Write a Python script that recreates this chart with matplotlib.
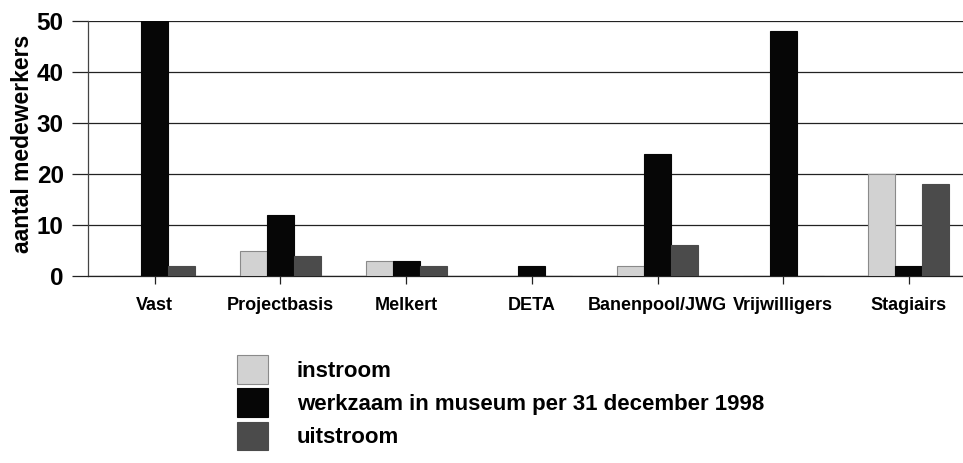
import matplotlib
matplotlib.use("Agg")
import matplotlib.pyplot as plt
import numpy as np

categories = ["Vast", "Projectbasis", "Melkert", "DETA", "Banenpool/JWG", "Vrijwilligers", "Stagiairs"]
instroom = [0, 5, 3, 0, 2, 0, 20]
werkzaam = [50, 12, 3, 2, 24, 48, 2]
uitstroom = [2, 4, 2, 0, 6, 0, 18]
series_names = ["instroom", "werkzaam in museum per 31 december 1998", "uitstroom"]
yticks = [0, 10, 20, 30, 40, 50]

plt.rcParams['font.family'] = ['Liberation Sans', 'DejaVu Sans']
plt.rcParams['font.weight'] = 'bold'

fig = plt.figure(figsize=(9.63, 4.63), dpi=100)
ax = fig.add_axes([88/963, 1 - 276/463, (963-88)/963, (276-21)/463])

x = np.arange(len(categories))
w = 0.215
colors = ["#d2d2d2", "#060606", "#4b4b4b"]
edges = ["#8a8a8a", "#060606", "#4b4b4b"]
handles = []
for i, (vals, c, e, name) in enumerate(zip([instroom, werkzaam, uitstroom], colors, edges, series_names)):
    b = ax.bar(x + (i - 1) * w, vals, width=w, color=c, edgecolor=e, linewidth=0.8, label=name, zorder=3)
    handles.append(b)

ax.set_xlim(-0.53, 6.43)
ax.set_ylim(0, 50)
ax.set_yticks(yticks)
ax.set_yticklabels([str(t) for t in yticks], fontsize=17.5, fontweight='bold')
ax.yaxis.grid(True, color="#222222", linewidth=0.9, zorder=0)
ax.tick_params(axis='y', length=11.5, width=0.9, color="#222222", pad=6)
ax.set_xticks(x)
ax.set_xticklabels(categories, fontsize=13, fontweight='bold')
ax.tick_params(axis='x', length=6, width=0.9, color="#222222", pad=9)
for s in ["top", "right"]:
    ax.spines[s].set_visible(False)
ax.spines["left"].set_color("#444444")
ax.spines["left"].set_linewidth(0.9)
ax.spines["bottom"].set_color("#222222")
ax.spines["bottom"].set_linewidth(0.9)
ax.set_ylabel("aantal medewerkers", fontsize=16.5, fontweight='bold')
ax.yaxis.set_label_coords(-0.062, 0.52)

leg = fig.legend(handles=handles, labels=series_names, loc="upper left",
                 bbox_to_anchor=(237/963, 1 - 355/463), frameon=False,
                 borderpad=0, borderaxespad=0,
                 prop={'size': 16, 'weight': 'bold'}, handlelength=1.4, handleheight=1.62,
                 labelspacing=0.2, handletextpad=1.3)

fig.savefig("out.png", dpi=100)
